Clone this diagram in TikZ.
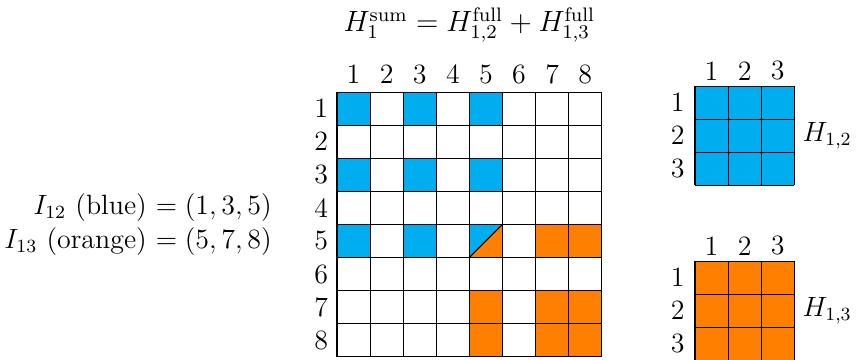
\documentclass[tikz,border=0pt,12pt]{standalone}
\usetikzlibrary{positioning}
\definecolor{hblue}{RGB}{0,174,239}
\definecolor{horange}{RGB}{255,128,0}

\begin{document}
\begin{tikzpicture}[
  lbl/.style={inner sep=0pt},
  gridline/.style={draw=black, line width=0.45pt}
]
\useasboundingbox (-5.091,1.390) rectangle (7.840,-4.048);

% main 8x8 grid, cell = 0.5cm, top left at (0,0)
\foreach \r/\c in {1/1,1/3,1/5,3/1,3/3,3/5,5/1,5/3}
  \fill[hblue] ({(\c-1)*0.5},{-(\r-1)*0.5}) rectangle ++(0.5,-0.5);
\foreach \r/\c in {5/7,5/8,7/5,7/7,7/8,8/5,8/7,8/8}
  \fill[horange] ({(\c-1)*0.5},{-(\r-1)*0.5}) rectangle ++(0.5,-0.5);
% shared cell (5,5)
\fill[hblue] (2,-2) -- (2.5,-2) -- (2,-2.5) -- cycle;
\fill[horange] (2.5,-2) -- (2.5,-2.5) -- (2,-2.5) -- cycle;
\draw[gridline] (2,-2.5) -- (2.5,-2);
\draw[gridline, step=0.5] (0,0) grid (4,-4);

\foreach \i in {1,...,8} {
  \node[lbl] (col\i) at ({(\i-0.5)*0.5},0.27) {\i};
  \node[lbl] (row\i) at (-0.24,{-(\i-0.5)*0.5}) {\i};
}

\node[lbl, anchor=base, scale=1.05] (title) at (2,0.911)
  {$H_1^{\mathrm{sum}} = H_{1,2}^{\mathrm{full}} + H_{1,3}^{\mathrm{full}}$};
\node[lbl, anchor=east, align=right] (index) at (-0.98,-2)
  {$I_{12}$ (blue) $= (1,3,5)$\\ $I_{13}$ (orange) $= (5,7,8)$};

% block H_{1,2}
\begin{scope}[shift={(5.408,0.09)}]
  \fill[hblue] (0,0) rectangle (1.5,-1.5);
  \draw[gridline, step=0.5] (0,0) grid (1.5,-1.5);
  \foreach \i in {1,2,3} {
    \node[lbl] (bcol\i) at ({(\i-0.5)*0.5},0.23) {\i};
    \node[lbl] (brow\i) at (-0.26,{-(\i-0.5)*0.5}) {\i};
  }
  \node[lbl, anchor=west] (hblock) at (1.62,-0.75) {$H_{1,2}$};
\end{scope}

% block H_{1,3}
\begin{scope}[shift={(5.408,-2.553)}]
  \fill[horange] (0,0) rectangle (1.5,-1.5);
  \draw[gridline, step=0.5] (0,0) grid (1.5,-1.5);
  \foreach \i in {1,2,3} {
    \node[lbl] (ocol\i) at ({(\i-0.5)*0.5},0.23) {\i};
    \node[lbl] (orow\i) at (-0.26,{-(\i-0.5)*0.5}) {\i};
  }
  \node[lbl, anchor=west] (oblock) at (1.62,-0.75) {$H_{1,3}$};
\end{scope}
\end{tikzpicture}
\end{document}
